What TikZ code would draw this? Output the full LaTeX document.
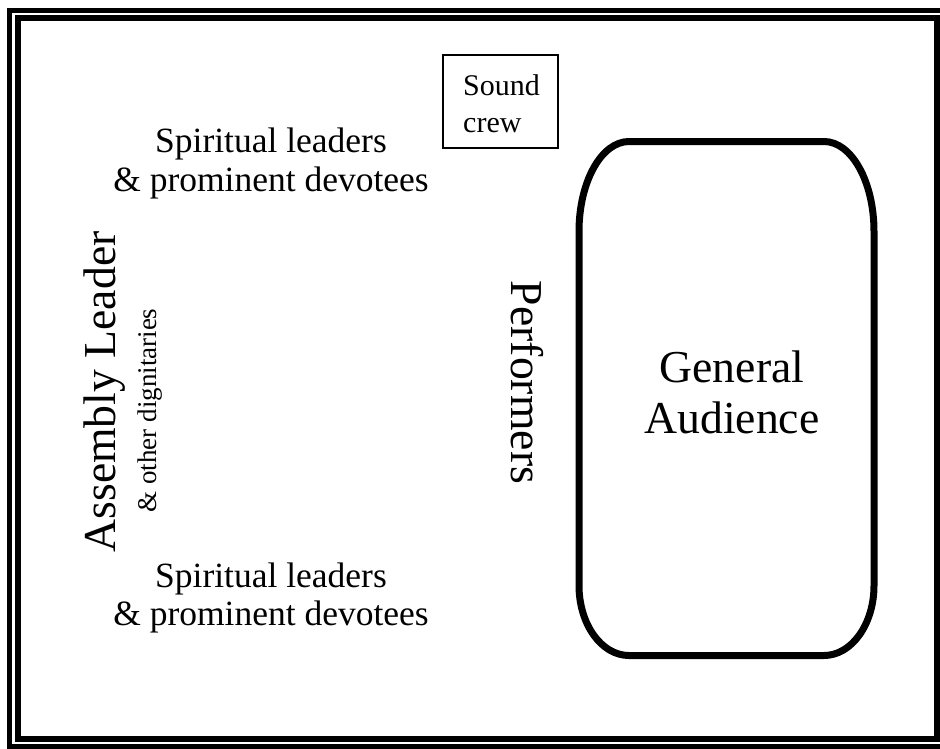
\documentclass[tikz,border=0pt]{standalone}
\usepackage{fontspec}
\setmainfont{Liberation Serif}
\begin{document}
\begin{tikzpicture}[x=1pt,y=1pt,
  lbl/.style={inner sep=0pt, anchor=base},
  lblw/.style={inner sep=0pt, anchor=base west},
  bigtxt/.style={font=\fontsize{35.5}{39}\selectfont},
  hugetxt/.style={font=\fontsize{45.7}{50}\selectfont},
  smalltxt/.style={font=\fontsize{27}{30}\selectfont},
  crewtxt/.style={font=\fontsize{30}{36}\selectfont},
  framebox/.style={draw=black, line width=#1},
]
\useasboundingbox (0,0) rectangle (940,-748);
\clip (0,0) rectangle (940,-748);
\fill[white] (0,0) rectangle (940,-748);

% double frame
\draw[framebox=5pt] (9.5,-10) rectangle (946,-746);
\draw[framebox=6pt] (18,-18) rectangle (937,-739);

% sound crew box
\node[draw, line width=2pt, minimum width=115pt, minimum height=93pt, inner sep=0pt] (crewbox) at (500.5,-101.5) {};
\node[lblw, crewtxt] (sound) at (463,-95) {Sound};
\node[lblw, crewtxt] (crew) at (463,-132) {crew};

% spiritual leaders, upper and lower
\node[lbl, bigtxt] (spUa) at (271,-152) {Spiritual leaders};
\node[lbl, bigtxt] (spUb) at (271,-191) {\& prominent devotees};
\node[lbl, bigtxt] (spLa) at (271,-587) {Spiritual leaders};
\node[lbl, bigtxt] (spLb) at (271,-625) {\& prominent devotees};

% assembly leader
\node[lbl, hugetxt, rotate=90] (assembly) at (115,-392) {Assembly Leader};
\node[lbl, smalltxt, rotate=90] (dign) at (156.5,-410.5) {\& other dignitaries};

% performers
\node[lbl, hugetxt, rotate=-90] (perf) at (511,-382.5) {Performers};

% general audience area
\draw[line width=7pt]
  (629,-141.5) -- (824,-141.5)
  arc[start angle=90, end angle=0, x radius=50pt, y radius=90pt]
  -- (874,-585.5)
  arc[start angle=0, end angle=-90, x radius=50pt, y radius=70pt]
  -- (629,-655.5)
  arc[start angle=270, end angle=180, x radius=50pt, y radius=70pt]
  -- (579,-231.5)
  arc[start angle=180, end angle=90, x radius=50pt, y radius=90pt]
  -- cycle;
\node[lbl, hugetxt] (gen) at (732,-382) {General};
\node[lbl, hugetxt] (aud) at (732,-433) {Audience};
\end{tikzpicture}
\end{document}
